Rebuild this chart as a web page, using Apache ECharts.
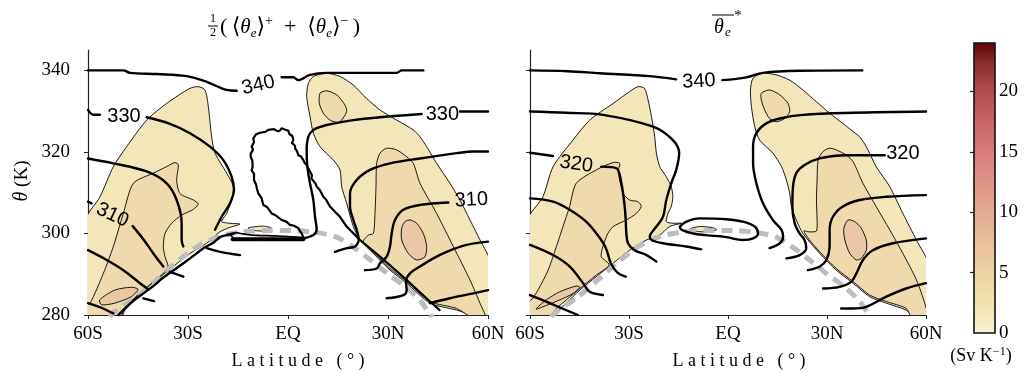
<!DOCTYPE html>
<html>
<head>
<meta charset="utf-8">
<script src="https://cdn.jsdelivr.net/npm/echarts@6/dist/echarts.min.js"></script>
<style>
  html, body { margin: 0; padding: 0; background: #fff; }
  #chart { width: 1028px; height: 384px; }
</style>
</head>
<body>
<div id="chart"></div>
<script>
// ---------- axes ----------
const latTicks = [-60, -30, 0, 30, 60];
const latTickLabels = ['60S', '30S', 'EQ', '30N', '60N'];
const thetaTicks = [280, 300, 320, 340];
const thetaRange = [280, 345];
const cbarTicks = [0, 5, 10, 15, 20];
const cbarMinorTicks = [5, 10, 15, 20];
const cbarMax = 24;

// ---------- panel 1: half-sum of the two isentropic means ----------
// filled streamfunction-density regions, [latitude, theta]
const sumCreamSH = [[-61,302.9],[-56.4,309.0],[-52.4,316.4],[-48.4,321.3],[-42.4,327.8],[-36.4,331.9],[-29.4,335.6],[-26.9,336.0],[-24.9,335.2],[-23.9,331.1],[-22.9,323.7],[-21.9,319.7],[-18.4,314.8],[-16.4,311.5],[-16.9,308.2],[-18.4,304.9],[-19.9,302.9],[-17.4,302.5],[-14.4,302.3],[-17.4,301.5],[-20.4,300.4],[-24.4,297.6],[-29.4,295.1],[-34.4,291.9],[-39.4,288.6],[-44.4,285.3],[-48.4,282.0],[-50.6,279],[-61,279]];
const sumTanSH = [[-46.4,312.3],[-40.4,314.8],[-36.4,316.4],[-33.9,317.4],[-32.9,316.8],[-33.4,313.1],[-32.4,309.8],[-28.4,308.2],[-26.9,307.2],[-28.4,305.9],[-31.9,304.5],[-34.9,302.5],[-36.9,300.0],[-37.4,296.8],[-36.9,294.3],[-36.0,291.6],[-40.0,288.4],[-45.0,285.0],[-48.8,281.8],[-50.8,279],[-61,279],[-61,282.3],[-59.4,282.9],[-55.4,290.2],[-52.4,296.8],[-49.4,304.9]];
const sumPeachSH = [[-56.5,283.7],[-52.0,286.1],[-47.0,286.8],[-45.0,286.3],[-47.0,284.5],[-52.0,282.9],[-56.0,282.5]];
const sumCreamNH = [[6.1,336.8],[7.6,338.5],[11.6,339.3],[15.6,338.5],[19.6,336.4],[23.6,333.1],[27.6,330.3],[32.6,327.8],[37.6,325.4],[39.6,323.7],[41.6,321.3],[44.6,317.2],[48.6,312.3],[51.6,308.2],[54.6,303.3],[57.6,298.4],[61,292.5],[61,279],[59,279],[50.6,281.2],[42.6,282.9],[35.6,287.8],[30.6,291.0],[25.6,295.1],[21.6,298.4],[19.6,301.7],[17.6,307.4],[16.1,311.5],[15.6,315.6],[13.6,318.0],[9.6,321.3],[7.6,324.6],[6.6,328.7],[5.6,333.6]];
const sumTopNH = [[9.6,334.4],[11.6,335.0],[14.6,334.0],[17.1,331.5],[17.6,329.9],[16.1,327.8],[15.1,327.2],[12.6,327.8],[10.6,329.5],[9.4,331.9]];
const sumTanNH = [[29.6,320.9],[32.6,320.5],[35.6,318.8],[37.6,317.2],[39.6,312.3],[44.6,304.9],[49.6,296.8],[54.6,288.6],[57.6,282.9],[59.4,279],[56,279],[50.6,281.6],[42.6,283.3],[35.6,288.2],[30.6,291.4],[25.6,295.5],[22.6,298.0],[24.1,299.6],[25.6,300.0],[26.1,304.9],[26.4,311.5],[26.6,317.2],[27.6,319.7]];
const sumPeachNH = [[36.6,303.3],[38.6,302.5],[40.6,300.0],[41.6,296.8],[41.1,294.3],[38.6,293.5],[36.1,295.1],[34.1,298.4],[34.1,301.3],[35.1,302.9]];
const sumCreamEq = [[-11.9,301.4],[-7.4,301.8],[-4.9,301.3],[-7.4,300.6],[-11.4,300.9]];

// equivalent potential temperature contours
const sum340a = [[-60,340.0],[-49.4,340.0],[-47.4,339.4],[-39.4,339.1],[-30.4,338.6],[-24.4,337.2],[-18.4,335.2],[-15.4,335.0]];
const sum340b = [[-1.9,338.3],[1.6,338.3],[3.1,337.6],[6.6,338.9],[11.6,339.4],[32.6,339.4],[34.1,340.0],[40.6,340.0]];
const sum330SHa = [[-60,330.3],[-58.4,329.1],[-56.4,329.1]];
const sum330SHb = [[-42.4,328.5],[-35.4,326.9],[-29.4,324.6],[-23.4,321.3],[-19.4,318.0],[-16.9,313.9],[-16.2,310.7],[-17.4,307.4],[-19.9,304.1],[-21.9,300.9]];
const sum320SH = [[-60,318.4],[-52.4,317.2],[-42.4,315.2],[-36.4,312.3],[-33.4,308.2],[-31.9,302.5],[-31.9,298.4],[-31.4,296.8]];
const sum310SHa = [[-60,307.8],[-58.9,307.4]];
const sum310SHb = [[-46.6,301.8],[-43.4,298.6],[-40.4,295.1],[-37.4,291.9]];
const sum300SH = [[-60,295.9],[-54.4,293.5],[-49.4,291.0],[-44.4,287.8],[-41.9,286.3]];
const sum290SH = [[-60,282.9],[-56.4,281.9],[-52.4,280.4]];
const sumHookSH1 = [[-24.4,296.4],[-20.4,295.5],[-14.4,294.7]];
const sumHookSH2 = [[-35.4,290.6],[-31.4,289.4]];
const sumHookSH3 = [[-43.4,284.1],[-40.2,283.4]];
const sum330NHa = [[60,329.9],[51.6,329.9]];
const sum330NHb = [[40.1,329.3],[27.6,328.5],[19.6,327.8],[11.6,326.6],[7.6,325.4],[6.1,323.7],[5.6,320.5],[5.8,316.4],[6.6,312.3],[7.6,308.2],[8.1,304.1],[8.6,300.9],[7.6,299.6],[4.6,298.8]];
const sum320NH = [[60,320.1],[55.6,320.1],[50.6,319.7],[39.6,318.4],[30.6,317.2],[24.6,315.6],[20.6,313.1],[18.6,309.8],[18.6,306.6],[19.6,303.3],[20.6,300.9],[21.2,298.6],[20.1,296.8],[17.6,296.4],[14.1,295.5]];
const sum310NH = [[48.1,307.6],[39.6,307.0],[34.6,305.8],[32.1,303.3],[31.1,300.0],[30.6,296.8],[29.6,294.3],[27.6,292.7],[26.6,291.4],[23.1,291.0]];
const sum300NH = [[60,298.0],[53.6,297.2],[47.6,295.5],[43.6,293.9],[39.6,291.9],[36.6,290.2],[35.4,288.2],[35.6,286.1],[34.6,284.9],[29.6,284.1]];
const sum290NH = [[60,286.1],[55.6,285.3],[48.6,284.1],[42.6,282.9]];
const sumLoop = [[4.6,299.1],[4.1,300.0],[3.6,300.6],[3.1,301.3],[1.8,301.9],[0.6,302.1],[-0.5,302.9],[-1.9,303.3],[-3.6,304.4],[-4.9,304.9],[-6.3,306.5],[-7.4,307.0],[-8.0,308.8],[-8.9,309.8],[-9.3,310.9],[-9.6,312.0],[-10.2,313.1],[-10.2,314.6],[-10.9,315.5],[-10.6,316.4],[-10.7,317.9],[-11.2,318.8],[-11.2,319.6],[-10.5,320.5],[-10.9,321.3],[-10.2,322.4],[-10.4,323.3],[-9.6,324.3],[-8.4,324.7],[-6.8,324.9],[-5.9,325.4],[-4.2,325.6],[-3.4,325.2],[-2.6,325.1],[-1.9,325.8],[-1.0,325.5],[0.1,325.2],[0.4,324.4],[1.3,323.9],[1.6,322.9],[1.2,322.2],[2.1,321.5],[2.1,320.9],[2.7,320.2],[3.1,319.2],[3.9,318.9],[4.6,318.0],[5.0,317.3],[5.6,316.8],[6.0,316.1],[6.6,315.2],[7.2,314.3],[7.0,313.5],[7.6,313.1],[8.3,312.2],[8.6,311.5],[9.6,310.6],[10.6,309.0],[11.4,308.3],[12.6,306.6],[13.2,306.3],[14.1,305.3],[15.5,304.2],[17.6,301.7],[19.5,300.1],[21.6,298.4],[27.6,294.3],[35.6,288.6],[42.6,283.3],[45.5,281.2]];
const sumBar = [[4.6,298.6],[-16.6,298.6]];
const sumBarTop = [[-16.6,299.1],[-17.2,299.6],[-15.5,300.2],[-13.6,299.9],[-11.0,299.6],[-4.0,299.4],[1.0,299.2],[4.6,299.0]];
const sumDiagSH = [[-16.4,300.0],[-18.4,299.6],[-20.4,299.1],[-22.4,297.7],[-25.4,296.4],[-28.4,294.5],[-31.4,292.7],[-34.4,290.9],[-37.4,289.2],[-40.4,287.1],[-43.4,285.3],[-46.4,283.5],[-48.9,281.6],[-50.9,280.0]];
const sumLabels = [[-8.9,336.4,'340'],[-49.2,328.6,'330'],[-52.7,304.5,'310'],[46.3,329.2,'330'],[55.0,308.2,'310']];
const sumLabelAngles = [13, 0, -25, 0, 3];

// ---------- panel 2: zonal mean theta_e* ----------
const starCreamSH = [[-61,302.9],[-56.1,309.0],[-53.0,316.4],[-47.0,322.9],[-41.9,327.8],[-34.8,331.9],[-29.8,334.8],[-27.3,336.0],[-25.3,335.6],[-24.2,332.7],[-23.2,328.7],[-22.2,323.7],[-21.7,319.7],[-20.7,316.4],[-18.7,313.9],[-17.2,311.5],[-16.7,309.0],[-17.2,306.6],[-18.2,304.9],[-18.7,302.9],[-16.7,302.5],[-14.1,302.5],[-17.7,301.7],[-20.7,299.6],[-24.7,298.4],[-29.8,295.9],[-34.8,292.7],[-39.9,289.4],[-44.9,286.1],[-49.0,282.9],[-52.0,280.4],[-53,279],[-61,279]];
const starTanSH = [[-46.0,312.3],[-39.9,315.6],[-34.8,317.4],[-32.8,317.2],[-33.3,315.2],[-32.8,313.1],[-31.8,309.8],[-29.8,308.2],[-27.3,307.8],[-26.3,306.6],[-27.8,304.9],[-30.8,303.3],[-34.8,301.7],[-36.4,300.0],[-37.9,296.8],[-38.4,294.3],[-36.0,292.3],[-39.9,289.8],[-44.9,286.5],[-49.0,283.7],[-52.0,281.6],[-55,279],[-61,279],[-61,283.5],[-59.6,283.7],[-57.6,286.1],[-54.5,291.0],[-52.0,296.8],[-50.0,301.7],[-48.0,306.6]];
const starPeachSH = [[-58.1,281.6],[-55.1,283.7],[-51.0,285.7],[-46.0,287.1],[-44.9,286.8],[-46.9,285.3],[-51.0,283.7],[-56.1,282.0],[-58.1,281.4]];
const starCreamNH = [[7.6,338.1],[10.6,339.3],[14.6,338.9],[18.7,337.6],[22.7,335.2],[26.8,332.3],[30.8,329.5],[34.8,327.0],[37.9,325.0],[39.9,323.7],[41.9,321.3],[44.9,316.4],[49.0,311.5],[53.0,304.9],[57.1,298.4],[61,292.0],[61,279],[58,279],[54.0,281.2],[48.0,282.9],[42.9,284.5],[37.9,287.8],[32.8,291.0],[27.8,295.1],[22.7,300.0],[20.7,303.3],[19.2,306.6],[18.7,309.8],[17.7,313.1],[16.2,316.4],[13.6,319.7],[9.6,322.9],[8.1,326.2],[7.1,331.1],[6.8,335.2]];
const starTopNH = [[10.1,334.4],[12.6,335.2],[15.7,334.0],[18.2,331.9],[18.7,329.9],[17.2,328.2],[14.6,327.4],[12.6,328.2],[11.1,330.3],[10.1,332.7]];
const starTanNH = [[30.8,320.9],[32.8,320.5],[35.9,319.2],[37.9,317.6],[40.9,312.3],[44.9,306.6],[49.0,300.9],[53.0,295.1],[57.1,288.6],[59.6,282.9],[60.5,279],[56,279],[54.0,281.6],[48.0,283.3],[42.9,284.9],[37.9,288.2],[32.8,291.4],[27.8,295.5],[24.5,298.6],[23.0,300.6],[24.5,300.4],[26.8,300.6],[27.0,303.3],[26.8,308.2],[27.0,313.1],[27.3,318.0],[28.8,320.1]];
const starPeachNH = [[36.4,303.3],[38.4,302.9],[40.4,301.3],[41.9,298.4],[41.9,295.9],[40.4,293.9],[38.9,293.5],[36.9,295.1],[35.4,298.4],[35.1,301.3]];
const starCreamEq = [[-11.6,301.1],[-8.6,301.7],[-4.5,301.4],[-3.5,300.9],[-6.6,300.4],[-11.1,300.6]];

const star340a = [[-60,340.0],[-48.5,339.8],[-38.9,339.3],[-23.7,338.6],[-15.7,337.8]];
const star340b = [[-1.7,337.6],[5.6,338.3],[10.6,339.4],[21.7,339.9],[40.7,340.0]];
const star330SH = [[-60,329.9],[-49.0,329.6],[-37.9,329.1],[-22.7,326.2],[-16.7,322.9],[-14.8,319.7],[-15.7,315.6],[-17.2,312.3],[-18.7,308.2],[-19.7,304.1],[-21.7,301.7],[-23.7,299.2],[-23.2,298.4],[-19.7,297.6],[-12.6,296.8],[-8.1,296.1]];
const star320SHa = [[-60,319.8],[-53.0,319.0]];
const star320SHb = [[-38.4,316.4],[-33.8,316.0],[-32.3,312.3],[-31.8,309.8],[-31.3,306.6],[-31.0,303.3],[-30.8,300.0],[-30.3,297.6],[-28.3,295.9],[-24.7,294.7],[-21.7,293.1]];
const star310SH = [[-60,308.6],[-53,307.8],[-48,305.8],[-43,302.9],[-39.5,299.6],[-37,296.4],[-35.5,292.7],[-33.5,290.4],[-31,289.4]];
const star300SH = [[-60,297.2],[-53.0,294.7],[-48.0,291.9],[-43.9,287.8],[-41.9,285.7],[-37.9,284.9]];
const star290SH = [[-60,284.9],[-54.0,282.9],[-45.5,280.0]];
const star330NH = [[60,329.9],[37.9,329.6],[22.7,329.1],[15.7,328.2],[11.6,327.0],[8.6,324.6],[7.6,321.3],[7.6,317.2],[8.6,312.3],[10.6,307.4],[13.6,303.3],[16.2,300.9],[16.7,299.2],[15.7,297.6],[12.6,296.4]];
const star320NH = [[47.5,319.2],[35.9,319.2],[27.8,318.4],[23.2,316.8],[20.7,314.8],[19.7,311.5],[19.5,306.6],[20.2,302.5],[21.7,300.0],[23.2,298.4],[23.7,296.4],[21.7,294.7],[17.7,293.9]];
const star310NH = [[60,309.4],[48.0,309.0],[39.9,308.2],[34.8,306.6],[31.8,304.1],[30.8,300.9],[30.8,296.8],[29.8,293.5],[27.8,291.9],[24.2,291.0]];
const star300NH = [[60,298.8],[50.0,297.6],[43.9,295.9],[40.9,293.5],[38.9,290.2],[37.4,288.2],[33.8,286.9],[28.8,286.5]];
const star290NH = [[60,287.8],[54.0,286.5],[48.0,284.5],[41.9,282.0],[37.9,281.6],[34.3,281.6]];
const starLoop = [[-14.6,301.7],[-12.6,302.9],[-8.6,303.7],[-0.5,303.5],[4.5,302.9],[8.1,301.7],[9.1,300.0],[7.6,298.8],[4.5,298.4],[-0.5,299.1],[-6.6,299.6],[-10.6,300.0],[-14.1,300.9],[-14.6,301.7]];
const starLabels = [[-8.8,337.3,'340'],[-46.0,317.0,'320'],[53.0,319.5,'320']];
const starLabelAngles = [3, -8, 0];

// surface theta curve (shared by both panels)
const surfaceTheta = [[-53.5,279.5],[-52,280.8],[-46,284.1],[-40,288.2],[-33.8,292.7],[-26.8,297.0],[-20.7,299.2],[-14.6,300.3],[-6.6,300.7],[1.5,300.7],[8.6,300.2],[14.6,299.1],[19.7,296.6],[24.7,293.5],[29.8,290.2],[35.9,286.5],[39.9,283.3],[42.4,280.4],[43.2,279.5]];

// ---------- styling ----------
const SERIF = '"Liberation Serif","DejaVu Serif",serif';
const SANS = '"Liberation Sans",Arimo,Helvetica,sans-serif';
const CREAM = '#f3e7ba', TAN = '#eedaab', PEACH = '#e9c8a3';
const cbarStops = [
  { offset: 0.00, color: '#f8f1d6' }, { offset: 0.10, color: '#f1e4ae' },
  { offset: 0.20, color: '#ecd4a1' }, { offset: 0.30, color: '#e8c39a' },
  { offset: 0.42, color: '#e4aa8f' }, { offset: 0.55, color: '#dd8c84' },
  { offset: 0.63, color: '#d97a7b' }, { offset: 0.73, color: '#c86465' },
  { offset: 0.84, color: '#ad4a4f' }, { offset: 0.93, color: '#8a2c30' },
  { offset: 1.00, color: '#5a0303' }
];

function polySeries(g, pts, color) {
  return {
    type: 'custom', coordinateSystem: 'cartesian2d', xAxisIndex: g, yAxisIndex: g,
    clip: true, silent: true, z: 2, data: [pts[0]],
    renderItem: (params, api) => ({
      type: 'polygon',
      shape: { points: pts.map(p => api.coord(p)), smooth: 0.25 },
      style: { fill: color, stroke: '#000', lineWidth: 0.9 }
    })
  };
}
function lineSeries(g, pts, width, smooth) {
  return {
    type: 'line', xAxisIndex: g, yAxisIndex: g, data: pts, symbol: 'none',
    smooth: smooth === undefined ? 0.35 : smooth, clip: true, silent: true, z: 4,
    lineStyle: { color: '#000', width: width, cap: 'round', join: 'round' }
  };
}
function surfaceSeries(g) {
  return {
    type: 'line', xAxisIndex: g, yAxisIndex: g, data: surfaceTheta, symbol: 'none',
    smooth: 0.3, clip: true, silent: true, z: 3,
    lineStyle: { color: '#bcbcbc', width: 5, type: [11, 7] }
  };
}
function labelSeries(g, labels, angles) {
  return {
    type: 'custom', coordinateSystem: 'cartesian2d', xAxisIndex: g, yAxisIndex: g,
    clip: true, silent: true, z: 6, data: labels.map(l => [l[0], l[1]]),
    renderItem: (params, api) => {
      const pt = api.coord([api.value(0), api.value(1)]);
      return {
        type: 'text', x: pt[0], y: pt[1], rotation: angles[params.dataIndex] * Math.PI / 180,
        style: { text: labels[params.dataIndex][2], font: '20px ' + SANS, fill: '#000', align: 'center', verticalAlign: 'middle' }
      };
    }
  };
}
function xAxisFor(g) {
  return {
    gridIndex: g, type: 'value', min: -60, max: 60, interval: 30,
    axisLine: { show: true, onZero: false, lineStyle: { color: '#222', width: 1.2 } },
    axisTick: { show: true, length: 4, customValues: latTicks, lineStyle: { color: '#222', width: 1 } },
    axisLabel: { customValues: latTicks, margin: 10, color: '#000', fontFamily: SERIF, fontSize: 19,
      formatter: v => latTickLabels[latTicks.indexOf(v)] },
    splitLine: { show: false }
  };
}
function yAxisFor(g, withLabels) {
  return {
    gridIndex: g, type: 'value', min: thetaRange[0], max: thetaRange[1], interval: 20,
    axisLine: { show: true, onZero: false, lineStyle: { color: '#222', width: 1.2 } },
    axisTick: { show: true, length: 4, customValues: thetaTicks, lineStyle: { color: '#222', width: 1 } },
    axisLabel: { show: withLabels, customValues: thetaTicks, margin: 18, color: '#000', fontFamily: SERIF, fontSize: 19 },
    splitLine: { show: false }
  };
}

const sumFills = [[sumCreamSH, CREAM], [sumTanSH, TAN], [sumPeachSH, PEACH], [sumCreamNH, CREAM], [sumTopNH, TAN], [sumTanNH, TAN], [sumPeachNH, PEACH], [sumCreamEq, CREAM]];
const starFills = [[starCreamSH, CREAM], [starTanSH, TAN], [starPeachSH, PEACH], [starCreamNH, CREAM], [starTopNH, TAN], [starTanNH, TAN], [starPeachNH, PEACH], [starCreamEq, CREAM]];
const sumLines = [sum340a, sum340b, sum330SHa, sum330SHb, sum320SH, sum310SHa, sum310SHb, sum300SH, sum290SH, sumHookSH1, sumHookSH2, sumHookSH3, sum330NHa, sum330NHb, sum320NH, sum310NH, sum300NH, sum290NH];
const starLines = [star340a, star340b, star330SH, star320SHa, star320SHb, star310SH, star300SH, star290SH, star330NH, star320NH, star310NH, star300NH, star290NH];

const series = [];
sumFills.forEach(f => series.push(polySeries(0, f[0], f[1])));
starFills.forEach(f => series.push(polySeries(1, f[0], f[1])));
series.push(surfaceSeries(0), surfaceSeries(1));
sumLines.forEach(l => series.push(lineSeries(0, l, 2.4)));
starLines.forEach(l => series.push(lineSeries(1, l, 2.4)));
series.push(lineSeries(0, sumLoop, 2.2, 0));
series.push(lineSeries(0, sumBar, 4, 0));
series.push(lineSeries(0, sumBarTop, 1.6, 0.2));
series.push(lineSeries(0, sumDiagSH, 2.4, 0.2));
series.push(lineSeries(1, starLoop, 2.4, 0.4));
series.push(labelSeries(0, sumLabels, sumLabelAngles));
series.push(labelSeries(1, starLabels, starLabelAngles));
// colour scale bar
series.push({
  type: 'custom', coordinateSystem: 'cartesian2d', xAxisIndex: 2, yAxisIndex: 2, silent: true, z: 2,
  data: [[0, 0]],
  renderItem: (params, api) => {
    const a = api.coord([0, 0]), b = api.coord([1, cbarMax]);
    return {
      type: 'rect',
      shape: { x: a[0], y: b[1], width: b[0] - a[0], height: a[1] - b[1] },
      style: { fill: { type: 'linear', x: 0, y: 1, x2: 0, y2: 0, colorStops: cbarStops }, stroke: '#111', lineWidth: 1.6 }
    };
  }
});

const textStyle = (t, size, extra) => Object.assign({ text: t, font: size + 'px ' + SERIF, fill: '#000' }, extra || {});

const option = {
  animation: false,
  backgroundColor: '#fff',
  grid: [
    { left: 88, top: 50, width: 400, height: 265 },
    { left: 530, top: 50, width: 396, height: 265 },
    { left: 974, top: 43, width: 21, height: 290 }
  ],
  xAxis: [xAxisFor(0), xAxisFor(1), { gridIndex: 2, type: 'value', min: 0, max: 1, show: false }],
  yAxis: [
    yAxisFor(0, true), yAxisFor(1, false),
    { gridIndex: 2, type: 'value', min: 0, max: cbarMax, interval: 5, position: 'right',
      axisLine: { show: false }, splitLine: { show: false },
      axisTick: { show: true, inside: true, length: 4, customValues: cbarMinorTicks, lineStyle: { color: '#222', width: 1.2 } },
      axisLabel: { customValues: cbarTicks, margin: 4, color: '#000', fontFamily: SERIF, fontSize: 19 } },
    { gridIndex: 2, type: 'value', min: 0, max: cbarMax, interval: 5, position: 'left',
      axisLine: { show: false }, splitLine: { show: false }, axisLabel: { show: false },
      axisTick: { show: true, inside: true, length: 4, customValues: cbarMinorTicks, lineStyle: { color: '#222', width: 1.2 } } }
  ],
  graphic: [
    // left title: 1/2 ( <θe>+ + <θe>- )
    { type: 'text', x: 213, y: 19, style: textStyle('1', 12, { align: 'center', verticalAlign: 'middle' }) },
    { type: 'line', shape: { x1: 208, y1: 26, x2: 218, y2: 26 }, style: { stroke: '#000', lineWidth: 1 } },
    { type: 'text', x: 213, y: 33, style: textStyle('2', 12, { align: 'center', verticalAlign: 'middle' }) },
    { type: 'text', x: 220, y: 27, style: textStyle('(\u2009\u27e8{i|θ}{b|e}\u27e9{p|+}\u2002+\u2002\u27e8{i|θ}{b|e}\u27e9{p|\u2212}\u2009)', 22, {
        align: 'left', verticalAlign: 'middle',
        rich: {
          i: { fontFamily: SERIF, fontSize: 21, fontStyle: 'italic', lineHeight: 26 },
          b: { fontFamily: SERIF, fontSize: 13, fontStyle: 'italic', verticalAlign: 'bottom', lineHeight: 26 },
          p: { fontFamily: SERIF, fontSize: 14, verticalAlign: 'top', lineHeight: 26 }
        } }) },
    // right title: overlined θe with star
    { type: 'text', x: 719, y: 28, style: textStyle('θ', 20, { font: 'italic 20px ' + SERIF, align: 'center', verticalAlign: 'middle' }) },
    { type: 'text', x: 728, y: 33, style: textStyle('e', 13, { font: 'italic 13px ' + SERIF, align: 'center', verticalAlign: 'middle' }) },
    { type: 'line', shape: { x1: 712, y1: 15, x2: 734, y2: 15 }, style: { stroke: '#000', lineWidth: 1 } },
    { type: 'text', x: 738, y: 16, style: textStyle('*', 15, { align: 'center', verticalAlign: 'middle' }) },
    // y axis name
    { type: 'text', x: 22, y: 181, rotation: Math.PI / 2,
      style: textStyle('{i|θ} (K)', 19, { align: 'center', verticalAlign: 'middle',
        rich: { i: { fontFamily: SERIF, fontSize: 20, fontStyle: 'italic' } } }) },
    // x axis names
    { type: 'text', x: 298, y: 361, style: textStyle('L a t i t u d e   ( ° )', 18, { align: 'center', verticalAlign: 'middle' }) },
    { type: 'text', x: 739, y: 361, style: textStyle('L a t i t u d e   ( ° )', 18, { align: 'center', verticalAlign: 'middle' }) },
    // colour bar unit
    { type: 'text', x: 981, y: 356, style: textStyle('(Sv K{s|−1})', 18, { align: 'center', verticalAlign: 'middle',
        rich: { s: { fontFamily: SERIF, fontSize: 12, verticalAlign: 'top', lineHeight: 20 } } }) }
  ],
  series: series
};

const chart = echarts.init(document.getElementById('chart'), null, { renderer: 'canvas' });
chart.setOption(option);
</script>
</body>
</html>
